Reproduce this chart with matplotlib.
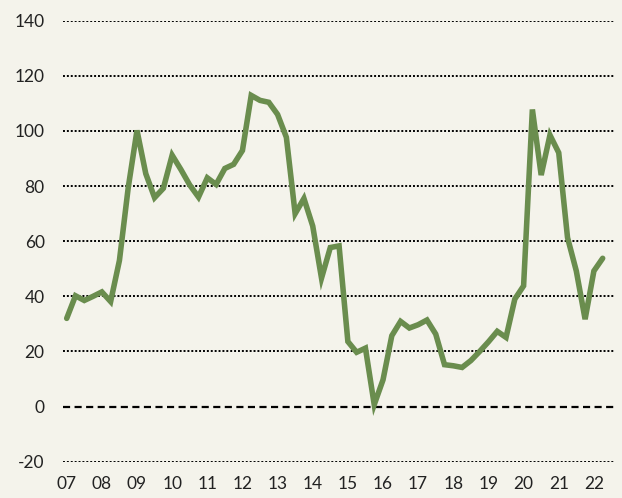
import matplotlib
matplotlib.use("Agg")
import matplotlib.pyplot as plt
import numpy as np

# quarterly values, 2007Q1 .. 2022Q2
values = [32.0, 40.2, 38.5, 40.0, 41.6, 38.1, 53.0, 79.4,
          100.2, 84.5, 75.8, 79.2, 91.2, 86.0, 80.4, 76.0,
          83.0, 80.6, 86.4, 87.9, 92.9, 112.9, 111.1, 110.4,
          106.0, 97.7, 70.0, 75.5, 65.5, 46.6, 57.7, 58.3,
          23.6, 19.7, 21.2, 0.7, 9.7, 25.7, 30.9, 28.5,
          29.7, 31.4, 26.3, 15.2, 14.8, 14.2, 16.7, 20.0,
          23.5, 27.3, 25.1, 39.0, 43.8, 107.8, 84.0, 98.5,
          92.1, 61.3, 49.2, 31.7, 49.2, 53.8]
years = list(range(2007, 2023))
year_labels = ["07", "08", "09", "10", "11", "12", "13", "14",
               "15", "16", "17", "18", "19", "20", "21", "22"]
yticks = [-20, 0, 20, 40, 60, 80, 100, 120, 140]

bg = "#f4f3eb"
green = "#6a8d4e"

x = 2007 + np.arange(len(values)) / 4.0

fig = plt.figure(figsize=(6.22, 4.98), dpi=100, facecolor=bg)
ax = fig.add_axes([0.1008, 0.0729, 0.8879, 0.8855], facecolor=bg)

# grid lines: dotted, zero line dashed
for t in yticks:
    if t == 0:
        ax.axhline(t, color="black", lw=1.6, ls=(0, (3.2, 2.0)), zorder=1)
    else:
        ax.axhline(t, color="black", lw=1.4, ls=(0, (1.0, 1.0)), zorder=1)

ax.plot(x, values, color=green, lw=4.0, solid_joinstyle="miter",
        solid_capstyle="round", zorder=3)

ax.set_xlim(2006.886, 2022.6)
ax.set_ylim(-20, 140)
ax.set_yticks(yticks)
ax.set_yticklabels([str(t) for t in yticks])
ax.set_xticks(years)
ax.set_xticklabels(year_labels)

for s in ax.spines.values():
    s.set_visible(False)
ax.tick_params(axis="both", length=0, labelsize=12.5, colors="#222222")
ax.tick_params(axis="y", pad=13)
ax.tick_params(axis="x", pad=10)
for lab in ax.get_xticklabels() + ax.get_yticklabels():
    lab.set_fontfamily("Lato")

fig.savefig("out.png", dpi=100, facecolor=bg)
